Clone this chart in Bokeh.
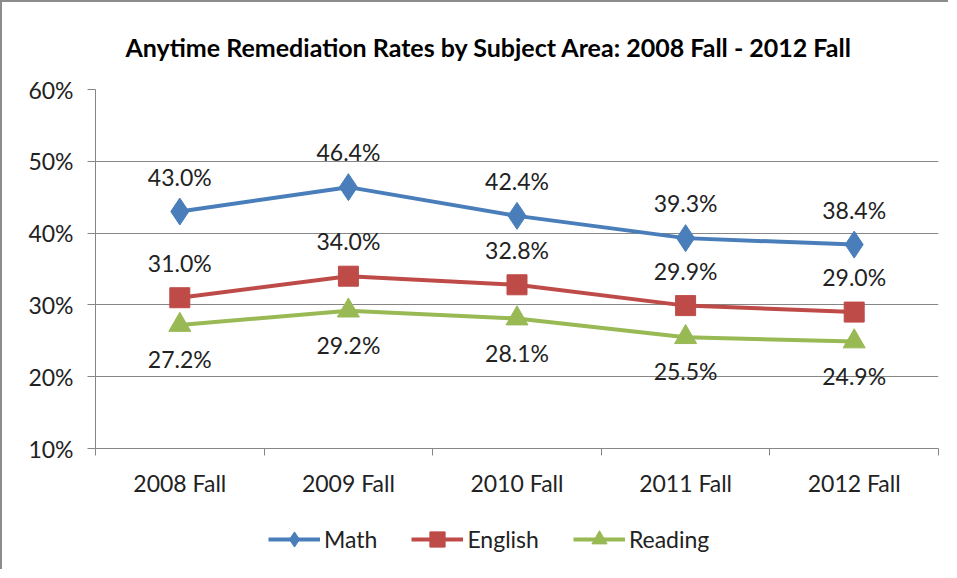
from bokeh.plotting import figure
from bokeh.layouts import column
from bokeh.models import Range1d, FixedTicker, Legend, LegendItem, ColumnDataSource
from bokeh.core.properties import value
from bokeh.embed import file_html
from bokeh.resources import INLINE

categories = ["2008 Fall", "2009 Fall", "2010 Fall", "2011 Fall", "2012 Fall"]
math = [43.0, 46.4, 42.4, 39.3, 38.4]
english = [31.0, 34.0, 32.8, 29.9, 29.0]
reading = [27.2, 29.2, 28.1, 25.5, 24.9]
y_ticks = [10, 20, 30, 40, 50, 60]

FONT = "Lato"
FS = "23px"
W = 946
xs = [i + 0.5 for i in range(len(categories))]

p = figure(width=W, height=501, output_backend="svg", toolbar_location=None,
           x_range=Range1d(0, len(categories)), y_range=Range1d(10, 60),
           min_border_left=93, min_border_right=10, min_border_top=86, min_border_bottom=55)
p.outline_line_color = None
p.background_fill_color = "white"
p.border_fill_color = "white"

p.title.text = "Anytime Remediation Rates by Subject Area: 2008 Fall - 2012 Fall"
p.title.text_font = FONT
p.title.text_font_size = "25px"
p.title.text_font_style = "bold"
p.title.text_color = "black"
p.title.align = "left"
p.title.offset = 30
p.title.standoff = 55

# axes
p.xaxis.ticker = FixedTicker(ticks=xs, minor_ticks=list(range(len(categories) + 1)))
p.xaxis.major_label_overrides = {x: c for x, c in zip(xs, categories)}
p.xaxis.major_tick_line_color = None
p.xaxis.major_tick_out = 0
p.xaxis.minor_tick_in = 0
p.xaxis.minor_tick_out = 7
p.xaxis.minor_tick_line_color = "#868686"
p.xaxis.axis_line_color = "#868686"
p.xaxis.major_label_standoff = 13
p.xaxis.major_label_text_font = FONT
p.xaxis.major_label_text_font_size = FS
p.xaxis.major_label_text_color = "#222222"

p.yaxis.ticker = FixedTicker(ticks=y_ticks, minor_ticks=[])
p.yaxis.major_label_overrides = {t: f"{t}%" for t in y_ticks}
p.yaxis.major_tick_in = 0
p.yaxis.major_tick_out = 8
p.yaxis.major_tick_line_color = "#868686"
p.yaxis.axis_line_color = "#868686"
p.yaxis.major_label_standoff = 14
p.yaxis.major_label_text_font = FONT
p.yaxis.major_label_text_font_size = FS
p.yaxis.major_label_text_color = "#222222"

p.xgrid.grid_line_color = None
p.ygrid.ticker = FixedTicker(ticks=y_ticks)
p.ygrid.grid_line_color = "#868686"
p.ygrid.grid_line_width = 1

# legend-only strip below the chart
lg = figure(width=W, height=66, output_backend="svg", toolbar_location=None,
            x_axis_location=None, y_axis_location=None,
            x_range=Range1d(0, 1), y_range=Range1d(0, 1),
            min_border_left=0, min_border_right=0, min_border_top=0, min_border_bottom=0)
lg.grid.visible = False
lg.outline_line_color = None
lg.background_fill_color = "white"
lg.border_fill_color = "white"

series = [
    ("Math", math, "#4a7ebb", "diamond", 27, -35),
    ("English", english, "#be4b48", "square", 20, -35),
    ("Reading", reading, "#98b954", "triangle", 22, 34),
]

nan = float("nan")
items = []
for name, vals, color, marker, size, off in series:
    src = ColumnDataSource(dict(x=xs, y=vals, lab=[f"{v:.1f}%" for v in vals]))
    p.line("x", "y", source=src, line_color=color, line_width=4)
    p.scatter("x", "y", source=src, marker=marker, size=size,
              fill_color=color, line_color=color)
    p.text("x", "y", text="lab", source=src, y_offset=off,
           text_align="center", text_baseline="middle",
           text_font=value(FONT), text_font_size=FS, text_color="#222222")
    blank = ColumnDataSource(dict(x=[nan], y=[nan]))
    l = lg.line("x", "y", source=blank, line_color=color, line_width=4)
    s = lg.scatter("x", "y", source=blank, marker=marker, size=size * 0.6,
                   fill_color=color, line_color=color)
    items.append(LegendItem(label=name, renderers=[l, s]))

legend = Legend(items=items, orientation="horizontal", location=(173, 11),
                label_text_font=FONT, label_text_font_size=FS,
                label_text_color="#222222", glyph_width=52, glyph_height=38,
                spacing=34, label_standoff=4, border_line_color=None,
                margin=0, padding=4, background_fill_alpha=0)
lg.add_layout(legend, "center")

layout = column(p, lg, spacing=0,
                styles={"border-left": "2px solid #8c8c8c", "border-top": "2px solid #8c8c8c"})

open("out.html", "w").write(file_html(layout, INLINE))
